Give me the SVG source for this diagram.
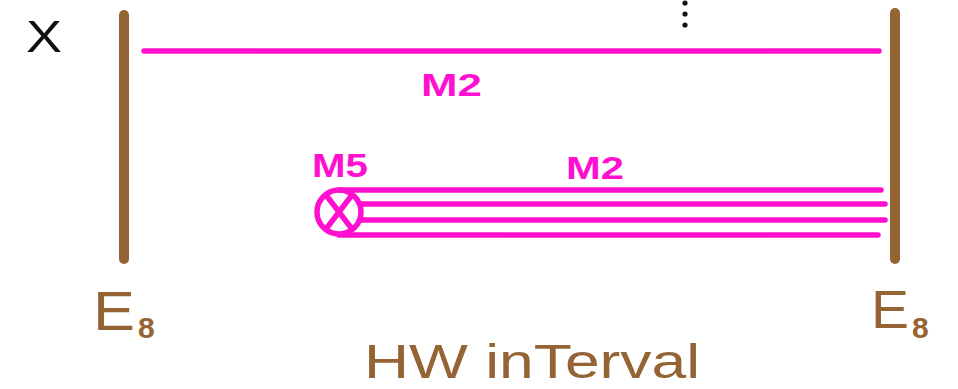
<svg xmlns="http://www.w3.org/2000/svg" width="958" height="389" viewBox="0 0 958 389">
  <style>
    .bar { stroke: #946434; stroke-width: 10; stroke-linecap: round; fill: none; }
    .wire { stroke: #ff10d0; stroke-width: 5.5; stroke-linecap: round; fill: none; }
    .pink { fill: #ff10d0; font-family: "Liberation Sans", Arial, sans-serif; font-weight: bold; }
    .brown { fill: #946434; font-family: "Liberation Sans", Arial, sans-serif; }
  </style>
  <rect width="958" height="389" fill="#ffffff"/>

  <!-- left E8 wall -->
  <g id="wall-left">
    <line class="bar" x1="124" y1="15" x2="124" y2="259"/>
    <text class="brown" x="93" y="330" font-size="56" textLength="42" lengthAdjust="spacingAndGlyphs">E</text>
    <text class="brown" x="138" y="338" font-size="30" font-weight="bold">8</text>
  </g>

  <!-- right E8 wall -->
  <g id="wall-right">
    <line class="bar" x1="895" y1="13" x2="895" y2="259"/>
    <text class="brown" x="871" y="328" font-size="54" textLength="38" lengthAdjust="spacingAndGlyphs">E</text>
    <text class="brown" x="912" y="338" font-size="30" font-weight="bold">8</text>
  </g>

  <!-- X label and ellipsis -->
  <g id="label-x">
    <text x="26" y="52" font-family="Liberation Sans, Arial, sans-serif" font-size="44" fill="#111111" textLength="36" lengthAdjust="spacingAndGlyphs">X</text>
  </g>
  <g id="ellipsis" fill="#111111">
    <circle cx="685" cy="3" r="2.6"/>
    <circle cx="685" cy="14" r="2.6"/>
    <circle cx="685" cy="25" r="2.6"/>
  </g>

  <!-- M5 crossed circle -->
  <g id="m5">
    <circle cx="339" cy="212" r="22" fill="none" stroke="#ff10d0" stroke-width="5.5"/>
    <line class="wire" x1="326" y1="195" x2="352" y2="229"/>
    <line class="wire" x1="352" y1="195" x2="326" y2="229"/>
    <text class="pink" x="312" y="177" font-size="33" textLength="56" lengthAdjust="spacingAndGlyphs">M5</text>
  </g>

  <!-- M2 labels -->
  <g id="m2-top">
    <text class="pink" x="421" y="96" font-size="32" textLength="61" lengthAdjust="spacingAndGlyphs">M2</text>
  </g>
  <g id="m2-bundle">
    <text class="pink" x="566" y="179" font-size="31" textLength="58" lengthAdjust="spacingAndGlyphs">M2</text>
  </g>

  <!-- title -->
  <g id="title">
    <text class="brown" x="364" y="378" font-size="48" textLength="336" lengthAdjust="spacingAndGlyphs">HW inTerval</text>
  </g>

  <!-- wires -->
  <g id="connectors">
    <line class="wire" x1="144" y1="51" x2="879" y2="51"/>
    <line class="wire" x1="339" y1="190" x2="881" y2="190"/>
    <line class="wire" x1="360" y1="204" x2="885" y2="204"/>
    <line class="wire" x1="360" y1="220" x2="885" y2="220"/>
    <line class="wire" x1="339" y1="235" x2="878" y2="235"/>
  </g>
</svg>
